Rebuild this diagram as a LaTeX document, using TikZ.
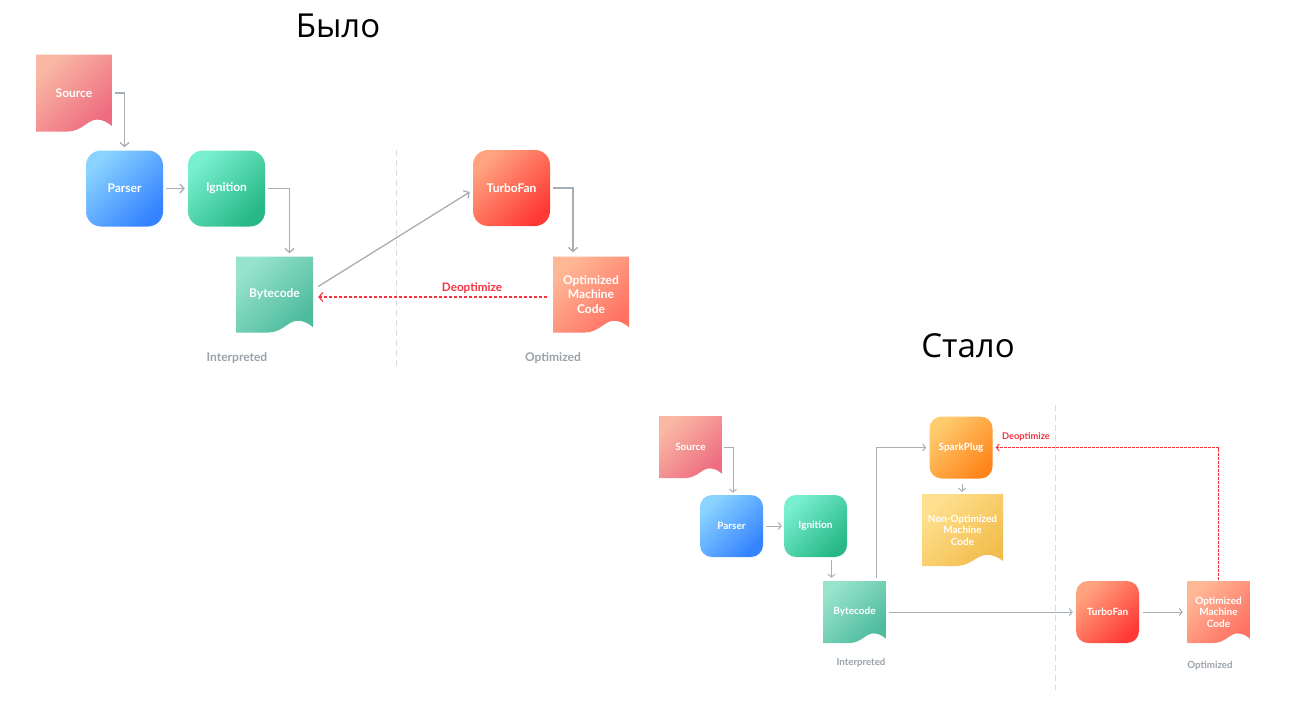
\documentclass[tikz,border=0pt]{standalone}
\usepackage{fontspec}
\setmainfont{Lato}
\newfontfamily\titlefont{Open Sans}
\usetikzlibrary{arrows.meta,calc}
\definecolor{arrowgray}{HTML}{A7AFB6}
\definecolor{labelgray}{HTML}{9AA2AA}
\definecolor{divgray}{HTML}{D9DDE0}
\definecolor{deored}{HTML}{F5333F}
\definecolor{srcA}{HTML}{F9B8A4}\definecolor{srcB}{HTML}{EE6B80}
\definecolor{parA}{HTML}{8AD3FF}\definecolor{parB}{HTML}{3583FF}
\definecolor{ignA}{HTML}{78EFCF}\definecolor{ignB}{HTML}{27B886}
\definecolor{bytA}{HTML}{97E3CC}\definecolor{bytB}{HTML}{4DBB9C}
\definecolor{tfA}{HTML}{FFA47F}\definecolor{tfB}{HTML}{FF3A36}
\definecolor{omcA}{HTML}{FFB896}\definecolor{omcB}{HTML}{FF7163}
\definecolor{spA}{HTML}{FFCB6E}\definecolor{spB}{HTML}{FF861C}
\definecolor{nomA}{HTML}{FFE08F}\definecolor{nomB}{HTML}{F2BD4C}
\tikzset{
  x=1pt, y=-1pt,
  grad/.style 2 args={top color=#1, bottom color=#2, shading angle=45},
  proc/.style={draw=none, text=white, align=center, inner sep=0pt,
    font=\bfseries\fontsize{12}{14}\selectfont},
  big/.style={minimum width=77pt, minimum height=76pt, rounded corners=15pt},
  small/.style={minimum width=63pt, minimum height=62pt, rounded corners=12pt,
    font=\bfseries\fontsize{10}{11.5}\selectfont},
  docbox/.style 2 args={draw=none, text=white, align=center, inner sep=0pt,
    font=\bfseries\fontsize{12}{14.5}\selectfont,
    path picture={
      \shade[top color=#1, bottom color=#2, shading angle=45]
        let \p1=(path picture bounding box.south west),
            \p2=(path picture bounding box.north east),
            \n1={\x2-\x1}, \n2={\y2-\y1} in
        (\x1,\y2) -- (\x2,\y2) -- (\x2,{\y1+0.07*\n2})
        .. controls ({\x1+0.94*\n1},{\y1+0.12*\n2}) and ({\x1+0.88*\n1},{\y1+0.155*\n2}) ..
        ({\x1+0.8*\n1},{\y1+0.155*\n2})
        .. controls ({\x1+0.68*\n1},{\y1+0.155*\n2}) and ({\x1+0.6*\n1},{\y1}) ..
        ({\x1+0.42*\n1},{\y1}) -- (\x1,\y1) -- cycle;
    }},
  sdoc/.style={font=\bfseries\fontsize{10}{11.5}\selectfont},
  arr/.style={draw=arrowgray, line width=1.3pt,
    -{Straight Barb[length=4pt, width=9pt, line width=1.3pt]}},
  sarr/.style={draw=arrowgray, line width=1pt,
    -{Straight Barb[length=3pt, width=7pt, line width=1pt]}},
  deo/.style={draw=deored, line width=1.1pt, dash pattern=on 3pt off 2pt,
    -{Straight Barb[length=4pt, width=9pt, line width=1.1pt]}},
  sdeo/.style={draw=deored, line width=0.9pt, dash pattern=on 2.5pt off 1.5pt,
    -{Straight Barb[length=3pt, width=7pt, line width=0.9pt]}},
  deolabel/.style={text=deored, font=\bfseries\fontsize{11.7}{13}\selectfont},
  sdeolabel/.style={text=deored, font=\bfseries\fontsize{9.3}{11}\selectfont},
  zone/.style={text=labelgray, font=\bfseries\fontsize{12}{14}\selectfont},
  szone/.style={text=labelgray, font=\bfseries\fontsize{9.7}{11}\selectfont},
  divider/.style={draw=divgray, line width=1pt, dash pattern=on 6pt off 4pt},
  title/.style={font=\titlefont\fontsize{33}{38}\selectfont, text=black, inner sep=0pt, anchor=base}
}
\begin{document}
\begin{tikzpicture}
\fill[white] (0,0) rectangle (1301,726);
\useasboundingbox (0,0) rectangle (1301,726);

% ===== Было =====
\node[title] (t1) at (338,37) {Было};

\coordinate (d1a) at (396,150);
\coordinate (d1b) at (396,366);
\draw[divider] (d1a) -- (d1b);

\node[docbox={srcA}{srcB}, minimum width=76pt, minimum height=77pt] (src) at (74,93) {Source};
\node[proc, big, grad={parA}{parB}] (par) at (124.5,188.5) {Parser};
\node[proc, big, grad={ignA}{ignB}] (ign) at (226.5,188.5) {Ignition};
\node[docbox={bytA}{bytB}, minimum width=77pt, minimum height=76pt] (byt) at (274.5,294.5) {Bytecode};
\node[proc, big, grad={tfA}{tfB}] (tf) at (511.5,188) {TurboFan};
\node[docbox={omcA}{omcB}, minimum width=76pt, minimum height=76pt] (omc) at (591,294.5) {Optimized\\Machine\\Code};

\draw[arr] ([xshift=3pt]src.east) -| ([yshift=3pt]par.north);
\draw[arr] ([xshift=3pt]par.east) -- ([xshift=-3pt]ign.west);
\draw[arr] ([xshift=3pt]ign.east) -| ([xshift=15pt,yshift=3pt]byt.north);
\draw[arr] ([xshift=5pt,yshift=8pt]byt.east) -- ([xshift=-3pt,yshift=-4pt]tf.west);
\draw[arr] ([xshift=3pt]tf.east) -| ([xshift=-18pt,yshift=4pt]omc.north);
\draw[deo] ([xshift=-6pt,yshift=-2.5pt]omc.west) -- ([xshift=5pt,yshift=-2.5pt]byt.east);
\node[deolabel] (deo1) at (472,288) {Deoptimize};

\node[zone] (int1) at (237,358) {Interpreted};
\node[zone] (opt1) at (553,358) {Optimized};

% ===== Стало =====
\node[title] (t2) at (968,357) {Стало};

\coordinate (d2a) at (1055,405);
\coordinate (d2b) at (1055,690);
\draw[divider] (d2a) -- (d2b);

\node[docbox={srcA}{srcB}, sdoc, minimum width=63pt, minimum height=62pt] (src2) at (690.5,447) {Source};
\node[proc, small, grad={parA}{parB}] (par2) at (731.5,526) {Parser};
\node[proc, small, grad={ignA}{ignB}] (ign2) at (815.5,526) {Ignition};
\node[docbox={bytA}{bytB}, sdoc, minimum width=63pt, minimum height=62pt] (byt2) at (854.5,612) {Bytecode};
\node[proc, small, grad={spA}{spB}] (sp) at (961,447.5) {SparkPlug};
\node[docbox={nomA}{nomB}, sdoc, minimum width=81pt, minimum height=72pt] (nom) at (962.5,530) {Non-Optimized\\Machine\\Code};
\node[proc, small, grad={tfA}{tfB}] (tf2) at (1107.5,612) {TurboFan};
\node[docbox={omcA}{omcB}, sdoc, minimum width=63pt, minimum height=62pt] (omc2) at (1218.5,612) {Optimized\\Machine\\Code};

\draw[sarr] ([xshift=2pt]src2.east) -| ([xshift=1.5pt,yshift=2pt]par2.north);
\draw[sarr] ([xshift=3pt]par2.east) -- ([xshift=-2pt]ign2.west);
\draw[sarr] ([xshift=16pt,yshift=-3pt]ign2.south) -- ([xshift=-23pt,yshift=3pt]byt2.north);
\draw[sarr] ([xshift=22pt,yshift=3pt]byt2.north) |- ([xshift=-3pt]sp.west);
\draw[sarr] ([xshift=1pt,yshift=-5pt]sp.south) -- ([xshift=-0.5pt,yshift=2pt]nom.north);
\draw[sarr] ([xshift=3pt]byt2.east) -- ([xshift=-3pt]tf2.west);
\draw[sarr] ([xshift=4pt]tf2.east) -- ([xshift=-4pt]omc2.west);
\draw[sdeo] ([yshift=1pt]omc2.north) |- ([xshift=3pt]sp.east);
\node[sdeolabel] (deo2) at (1026,437) {Deoptimize};

\node[szone] (int2) at (861,663) {Interpreted};
\node[szone] (opt2) at (1210,666) {Optimized};
\end{tikzpicture}
\end{document}
